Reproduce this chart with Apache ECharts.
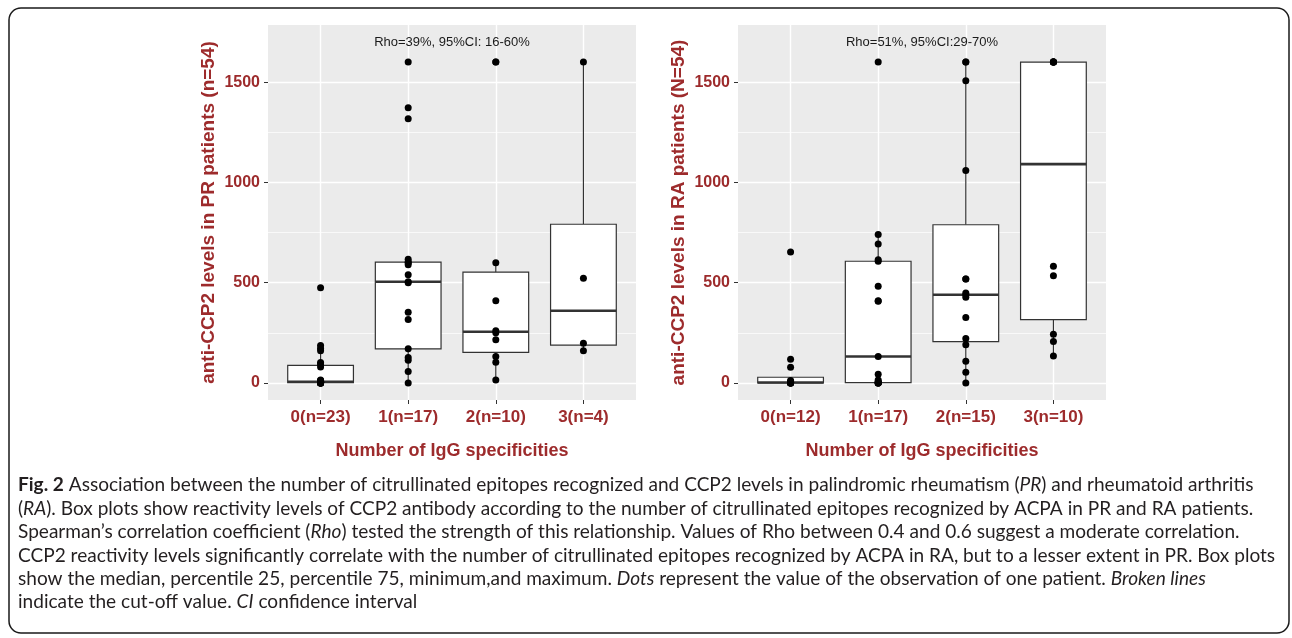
<!DOCTYPE html>
<html>
<head>
<meta charset="utf-8">
<title>anti-CCP2 levels by number of IgG specificities</title>
<script src="https://cdn.jsdelivr.net/npm/echarts@6.0.0/dist/echarts.min.js"></script>
<style>
  html, body { margin: 0; padding: 0; background: #fff; }
  #main { width: 1292px; height: 638px; }
</style>
</head>
<body>
<div id="main"></div>
<script>
// x categories of both panels
var prCategories = ['0(n=23)', '1(n=17)', '2(n=10)', '3(n=4)'];
var raCategories = ['0(n=12)', '1(n=17)', '2(n=15)', '3(n=10)'];
var xTicks = [0, 1, 2, 3];
var yTicks = [0, 500, 1000, 1500];
var yMinorTicks = [250, 750, 1250];

// anti-CCP2 levels of each patient, PR panel (one list per group)
var prGroup0 = [475, 187, 172, 160, 102, 95, 80, 15, 12, 10, 8, 6, 5, 4, 3, 2, 2, 0, 0, 0, 0, 0, 0];
var prGroup1 = [1600, 1372, 1318, 617, 603, 600, 590, 540, 505, 500, 353, 317, 170, 127, 113, 57, 0];
var prGroup2 = [1600, 1600, 600, 410, 260, 250, 215, 132, 103, 15];
var prGroup3 = [1600, 522, 198, 160];

// RA panel
var raGroup0 = [653, 118, 78, 12, 6, 3, 2, 0, 0, 0, 0, 0];
var raGroup1 = [1600, 740, 693, 615, 607, 482, 410, 407, 132, 43, 15, 7, 2, 0, 0, 0, 0];
var raGroup2 = [1600, 1600, 1507, 1060, 518, 518, 448, 440, 428, 327, 222, 190, 108, 53, 0];
var raGroup3 = [1600, 1600, 1600, 1600, 1600, 582, 535, 243, 207, 135];

var prTitle = 'anti-CCP2 levels in PR patients (n=54)';
var raTitle = 'anti-CCP2 levels in RA patients (N=54)';
var xTitle = 'Number of IgG specificities';
var prRho = 'Rho=39%, 95%CI: 16-60%';
var raRho = 'Rho=51%, 95%CI:29-70%';
var rhoAt = [1.5, 1700];

var captionLines = [
    '{b|Fig. 2} Association between the number of citrullinated epitopes recognized and CCP2 levels in palindromic rheumatism ({i|PR}) and rheumatoid arthritis',
    '({i|RA}). Box plots show reactivity levels of CCP2 antibody according to the number of citrullinated epitopes recognized by ACPA in PR and RA patients.',
    'Spearman\u2019s correlation coefficient ({i|Rho}) tested the strength of this relationship. Values of Rho between 0.4 and 0.6 suggest a moderate correlation.',
    'CCP2 reactivity levels significantly correlate with the number of citrullinated epitopes recognized by ACPA in RA, but to a lesser extent in PR. Box plots',
    'show the median, percentile 25, percentile 75, minimum,and maximum. {i|Dots} represent the value of the observation of one patient. {i|Broken lines}',
    'indicate the cut-off value. {i|CI} confidence interval'
];

var RED = '#9d2b2c';
var FONT = '"Liberation Sans", Arial, sans-serif';
var CAP_FONT = 'Lato, "Open Sans", sans-serif';
var BOX_HALF = 0.375;

//ggplot style quantile (type 7)
function quantile(sorted, p) {
    var h = (sorted.length - 1) * p, lo = Math.floor(h), hi = Math.ceil(h);
    return sorted[lo] + (h - lo) * (sorted[hi] - sorted[lo]);
}

function boxStats(values, x) {
    var s = values.slice().sort(function (a, b) { return a - b; });
    var q1 = quantile(s, 0.25), med = quantile(s, 0.5), q3 = quantile(s, 0.75);
    var iqr = q3 - q1;
    var inside = s.filter(function (v) { return v >= q1 - 1.5 * iqr && v <= q3 + 1.5 * iqr; });
    return [x, inside[0], q1, med, q3, inside[inside.length - 1]];
}

function renderBox(params, api) {
    var x = api.value(0);
    var lo = api.coord([x, api.value(1)]);
    var q1 = api.coord([x, api.value(2)]);
    var med = api.coord([x, api.value(3)]);
    var q3 = api.coord([x, api.value(4)]);
    var hi = api.coord([x, api.value(5)]);
    var half = api.size([BOX_HALF, 0])[0];
    var edge = { stroke: '#333', lineWidth: 1.2, fill: null };
    return {
        type: 'group',
        children: [
            { type: 'line', shape: { x1: lo[0], y1: lo[1], x2: q1[0], y2: q1[1] }, style: edge },
            { type: 'line', shape: { x1: q3[0], y1: q3[1], x2: hi[0], y2: hi[1] }, style: edge },
            { type: 'rect', shape: { x: q3[0] - half, y: q3[1], width: half * 2, height: q1[1] - q3[1] },
              style: { fill: '#fff', stroke: '#333', lineWidth: 1.2 } },
            { type: 'line', shape: { x1: med[0] - half, y1: med[1], x2: med[0] + half, y2: med[1] },
              style: { stroke: '#333', lineWidth: 2.6 } }
        ]
    };
}

var panels = [
    { cats: prCategories, groups: [prGroup0, prGroup1, prGroup2, prGroup3], title: prTitle, rho: prRho, left: 268 },
    { cats: raCategories, groups: [raGroup0, raGroup1, raGroup2, raGroup3], title: raTitle, rho: raRho, left: 738 }
];

var grids = [], xAxes = [], yAxes = [], series = [];
panels.forEach(function (p, i) {
    grids.push({ left: p.left, top: 25, width: 368, height: 375, show: true, backgroundColor: '#ebebeb', borderWidth: 0 });
    xAxes.push({
        type: 'value', gridIndex: i, min: -0.6, max: 3.6,
        name: xTitle, nameLocation: 'middle', nameGap: 42,
        nameTextStyle: { color: RED, fontWeight: 'bold', fontSize: 18, fontFamily: FONT },
        axisLine: { show: false, onZero: false },
        axisTick: { show: true, length: 4, customValues: xTicks, lineStyle: { color: '#333' } },
        axisLabel: {
            customValues: xTicks, margin: 9, color: RED, fontWeight: 'bold', fontSize: 17, fontFamily: FONT,
            formatter: function (v) { return p.cats[v]; }
        },
        splitLine: { show: true, lineStyle: { color: '#fff', width: 1.4 } }
    });
    yAxes.push({
        type: 'value', gridIndex: i, min: -85, max: 1785,
        name: p.title, nameLocation: 'middle', nameGap: 50,
        nameTextStyle: { color: RED, fontWeight: 'bold', fontSize: 19, fontFamily: FONT },
        axisLine: { show: false, onZero: false },
        axisTick: { show: true, length: 4, customValues: yTicks, lineStyle: { color: '#333' } },
        axisLabel: {
            customValues: yTicks, margin: 8, color: RED, fontWeight: 'bold', fontSize: 16, fontFamily: FONT,
            formatter: function (v) { return String(v); }
        },
        splitLine: { show: true, lineStyle: { color: '#fff', width: 1.4 } }
    });
    //minor grid lines
    yAxes.push({
        type: 'value', gridIndex: i, min: -85, max: 1785,
        axisLine: { show: false, onZero: false },
        axisTick: { show: false, customValues: yMinorTicks },
        axisLabel: { show: false },
        splitLine: { show: true, lineStyle: { color: '#fff', width: 0.7 } }
    });

    series.push({
        type: 'custom', xAxisIndex: i, yAxisIndex: i * 2, z: 2,
        renderItem: renderBox,
        encode: { x: 0, y: [1, 2, 3, 4, 5] },
        data: p.groups.map(function (g, k) { return boxStats(g, k); })
    });

    var pts = [];
    p.groups.forEach(function (g, k) {
        g.forEach(function (v) { pts.push([k, v]); });
    });
    series.push({
        type: 'scatter', xAxisIndex: i, yAxisIndex: i * 2, z: 3,
        symbolSize: 7, itemStyle: { color: '#000', opacity: 1 },
        data: pts,
        markPoint: {
            silent: true, symbol: 'rect', symbolSize: 1,
            itemStyle: { color: 'rgba(0,0,0,0)' },
            label: { show: true, position: 'inside', formatter: p.rho, color: '#1a1a1a', fontSize: 13, fontFamily: FONT },
            data: [{ coord: rhoAt }]
        }
    });
});

// caption font size: widest caption line fits the text block
var ctx = document.createElement('canvas').getContext('2d');
ctx.font = '20px ' + CAP_FONT;
var widest = 0;
captionLines.forEach(function (line) {
    var plain = line.replace(/\{[bi]\|([^}]*)\}/g, '$1');
    widest = Math.max(widest, ctx.measureText(plain).width);
});
var capSize = 20 * 1258 / widest;

function capStyle(extra) {
    return Object.assign({ fontSize: capSize, fontFamily: CAP_FONT, fontWeight: 'normal', fontStyle: 'normal',
        lineHeight: 23.4, fill: '#231f20' }, extra || {});
}

var graphics = [{
    type: 'rect', silent: true,
    shape: { x: 9, y: 8, width: 1280, height: 625, r: 12 },
    style: { fill: 'none', stroke: '#1a1a1a', lineWidth: 1.5 }
}];
captionLines.forEach(function (line, i) {
    graphics.push({
        type: 'text', left: 18, top: 473.5 + i * 23.4, silent: true,
        style: capStyle({
            text: line,
            rich: { b: capStyle({ fontWeight: 'bold' }), i: capStyle({ fontStyle: 'italic' }) }
        })
    });
});

var chart = echarts.init(document.getElementById('main'));
chart.setOption({
    animation: false,
    backgroundColor: '#fff',
    grid: grids,
    xAxis: xAxes,
    yAxis: yAxes,
    series: series,
    graphic: graphics
});
</script>
</body>
</html>
